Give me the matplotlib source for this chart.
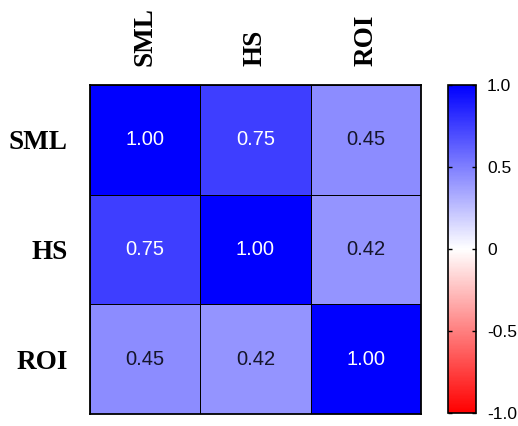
import numpy as np
import matplotlib
matplotlib.use("Agg")
import matplotlib.pyplot as plt
from matplotlib.colors import LinearSegmentedColormap

variables = ["SML", "HS", "ROI"]
corr = np.array([
    [1.00, 0.75, 0.45],
    [0.75, 1.00, 0.42],
    [0.45, 0.42, 1.00],
])
cbar_ticks = [-1.0, -0.5, 0.0, 0.5, 1.0]
cbar_labels = ["-1.0", "-0.5", "0", "0.5", "1.0"]

cmap = LinearSegmentedColormap.from_list("rwb", ["#ff0000", "#ffffff", "#0000ff"])

fig = plt.figure(figsize=(5.18, 4.26), dpi=100)
ax = fig.add_axes([0.1737, 0.0282, 0.639, 0.7723])
cax = fig.add_axes([0.8649, 0.0305, 0.054, 0.770])

n = len(variables)
mesh = ax.pcolormesh(np.arange(n + 1), np.arange(n + 1), corr, cmap=cmap,
                     vmin=-1, vmax=1, edgecolors="black", linewidth=0.6)
ax.set_xlim(0, n)
ax.set_ylim(n, 0)

for i in range(n):
    for j in range(n):
        v = corr[i, j]
        color = "white" if v > 0.6 else "#15152a"
        ax.text(j + 0.5, i + 0.5, f"{v:.2f}", ha="center", va="center",
                color=color, fontsize=14.5, family="Liberation Sans")

ax.xaxis.tick_top()
ax.set_xticks(np.arange(n) + 0.5)
ax.set_xticklabels(variables, rotation=90, family="Liberation Serif",
                   fontweight="bold", fontsize=19.5)
ax.set_yticks(np.arange(n) + 0.5)
ax.set_yticklabels(variables, family="Liberation Serif", fontweight="bold",
                   fontsize=19.5)
ax.tick_params(axis="y", length=0, pad=16)
ax.tick_params(axis="x", length=0, pad=14)
for s in ax.spines.values():
    s.set_linewidth(1.3)

cb = fig.colorbar(mesh, cax=cax, ticks=cbar_ticks)
cb.ax.set_yticklabels(cbar_labels, family="Liberation Sans", fontsize=12.5)
cb.ax.tick_params(direction="in", length=3, width=1, left=True, right=True,
                  pad=8)
cb.outline.set_linewidth(1.2)

fig.savefig("out.png", dpi=100, facecolor="white")
